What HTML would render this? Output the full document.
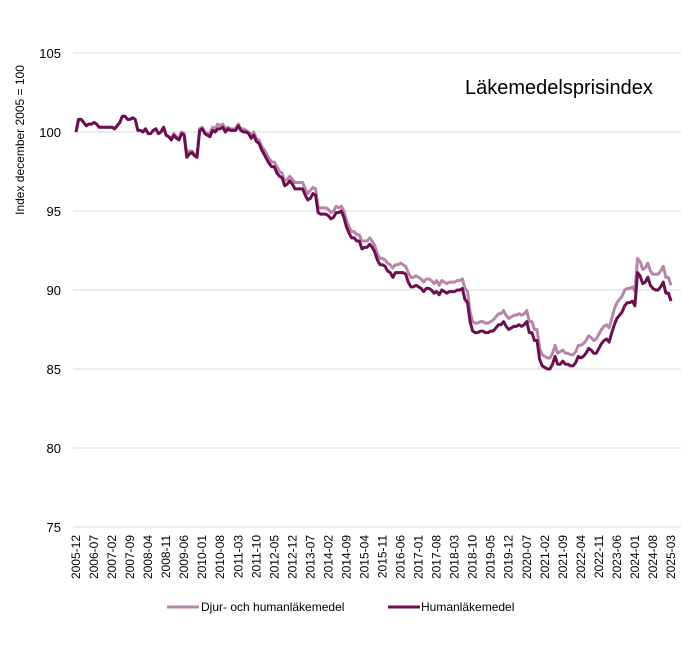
<!DOCTYPE html>
<html><head><meta charset="utf-8">
<style>
body{margin:0;background:#fff;font-family:"Liberation Sans",sans-serif;}
svg text{font-family:"Liberation Sans",sans-serif;fill:#000;}
</style></head>
<body>
<svg id="chart" width="697" height="655" xmlns="http://www.w3.org/2000/svg">
<rect width="697" height="655" fill="#fff"/>
<g id="grid"></g><g id="yticks"></g><g id="xticks"></g><g id="series"></g>
<text x="465" y="94" font-size="20">Läkemedelsprisindex</text>
<text transform="translate(24,140) rotate(-90)" text-anchor="middle" font-size="12">Index december 2005 = 100</text>
<g>
<line x1="167" y1="607" x2="199" y2="607" stroke="#b886a8" stroke-width="3"/>
<text x="201" y="611" font-size="12">Djur- och humanläkemedel</text>
<line x1="388" y1="607" x2="420" y2="607" stroke="#6b0f4e" stroke-width="3"/>
<text x="421" y="611" font-size="12">Humanläkemedel</text>
</g>
</svg>
<script>
const yTicks=[75,80,85,90,95,100,105];
const human=[100.0,
100.8,100.8,100.6,100.4,100.5,100.5,100.6,100.5,100.3,100.3,100.3,100.3,
100.3,100.3,100.2,100.4,100.6,101.0,101.0,100.8,100.8,100.9,100.8,100.1,
100.1,100.0,100.2,99.9,99.9,100.1,100.2,99.9,100.0,100.3,99.8,99.7,
99.5,99.8,99.6,99.5,99.9,99.8,98.4,98.6,98.7,98.5,98.4,100.1,
100.2,99.9,99.8,99.7,100.1,100.0,100.2,100.2,100.3,100.0,100.2,100.1,
100.1,100.1,100.4,100.1,100.0,100.0,99.9,99.6,99.8,99.4,99.3,98.9,
98.6,98.3,98.0,97.8,97.8,97.4,97.2,97.1,96.6,96.7,96.9,96.7,
96.4,96.4,96.4,96.4,96.0,95.7,95.8,96.1,96.0,94.9,94.8,94.8,
94.8,94.7,94.5,94.6,94.9,94.9,95.0,94.6,94.0,93.6,93.3,93.3,
93.1,93.1,92.6,92.7,92.7,92.9,92.7,92.4,91.9,91.6,91.6,91.5,
91.2,91.1,90.8,91.1,91.1,91.1,91.1,91.0,90.5,90.2,90.2,90.3,
90.2,90.1,89.9,90.1,90.1,90.0,89.8,89.9,89.7,90.0,89.9,89.8,
89.9,89.9,89.9,90.0,90.0,90.1,89.4,89.2,88.0,87.4,87.3,87.3,
87.4,87.4,87.3,87.3,87.4,87.4,87.6,87.8,87.8,88.0,87.7,87.5,
87.6,87.7,87.7,87.8,87.7,87.8,88.0,87.3,87.3,86.8,86.8,85.6,
85.2,85.1,85.0,85.0,85.3,85.8,85.3,85.3,85.5,85.3,85.3,85.2,
85.2,85.4,85.8,85.7,85.8,86.0,86.3,86.2,86.0,86.0,86.3,86.6,
86.8,86.9,86.7,87.3,87.8,88.2,88.4,88.6,89.0,89.2,89.2,89.3,
89.0,91.1,90.9,90.4,90.5,90.8,90.3,90.1,90.0,90.0,90.2,90.5,
89.8,89.8,89.3];
const allMed=[100.0,
100.8,100.8,100.6,100.4,100.5,100.5,100.6,100.5,100.3,100.3,100.3,100.3,
100.3,100.3,100.2,100.4,100.6,101.0,101.0,100.8,100.8,100.9,100.8,100.1,
100.1,100.0,100.2,99.9,99.9,100.1,100.2,99.9,100.0,100.3,99.8,99.7,
99.6,99.9,99.7,99.6,100.0,99.9,98.6,98.8,98.8,98.6,98.6,100.2,
100.3,100.0,99.9,99.9,100.3,100.2,100.5,100.4,100.5,100.2,100.3,100.2,
100.2,100.2,100.5,100.2,100.2,100.1,100.0,99.8,100.0,99.6,99.5,99.1,
98.9,98.6,98.3,98.1,98.1,97.8,97.5,97.4,96.9,97.0,97.2,97.0,
96.8,96.8,96.8,96.8,96.4,96.1,96.3,96.5,96.4,95.2,95.2,95.2,
95.2,95.1,94.9,95.0,95.3,95.2,95.3,95.0,94.4,94.0,93.7,93.7,
93.5,93.5,93.1,93.1,93.1,93.3,93.1,92.8,92.3,92.0,92.0,91.9,
91.7,91.6,91.4,91.6,91.6,91.7,91.6,91.5,91.1,90.8,90.8,90.9,
90.8,90.7,90.5,90.7,90.7,90.6,90.4,90.6,90.3,90.6,90.5,90.4,
90.5,90.5,90.5,90.6,90.6,90.7,90.1,89.9,88.6,88.0,87.9,87.9,
88.0,88.0,87.9,87.9,88.0,88.1,88.3,88.5,88.5,88.7,88.4,88.2,
88.3,88.4,88.4,88.5,88.4,88.5,88.7,88.0,88.0,87.5,87.5,86.3,
85.9,85.8,85.7,85.7,86.0,86.5,86.0,86.1,86.2,86.0,86.0,85.9,
85.9,86.1,86.5,86.5,86.6,86.8,87.1,87.0,86.8,86.9,87.2,87.5,
87.7,87.8,87.6,88.2,88.8,89.2,89.4,89.6,90.0,90.1,90.1,90.2,
89.9,92.0,91.8,91.3,91.4,91.7,91.2,91.0,91.0,91.0,91.2,91.5,
90.8,90.8,90.3];
const startYear=2005, startMonth=12, labelStep=7;

const NS="http://www.w3.org/2000/svg";
const X0=76,X1=671,Y0=527,Y1=53,VMIN=75,VMAX=105;
const n=human.length;
function xs(i){return X0+(X1-X0)*i/(n-1);}
function ys(v){return Y0-(v-VMIN)/(VMAX-VMIN)*(Y0-Y1);}
function mk(tag,attrs,parent){const e=document.createElementNS(NS,tag);for(const k in attrs)e.setAttribute(k,attrs[k]);parent.appendChild(e);return e;}
const grid=document.getElementById('grid'),yt=document.getElementById('yticks'),xt=document.getElementById('xticks'),ser=document.getElementById('series');
yTicks.forEach(v=>{
  const l=mk('line',{x1:73,x2:681,y1:ys(v),y2:ys(v),stroke:'#d9d9d9','stroke-width':1},grid);
  
  
  const t=mk('text',{x:61,y:ys(v)+5,'text-anchor':'end','font-size':13},yt);
  t.textContent=v;
  
  
});
for(let i=0;i<n;i+=labelStep){
  const m=startMonth-1+i;const yr=startYear+Math.floor(m/12);const mo=(m%12)+1;
  const lab=yr+'-'+(mo<10?'0':'')+mo;
  const x=xs(i)+4;
  const t=mk('text',{transform:'translate('+x+',535) rotate(-90)','text-anchor':'end','font-size':12},xt);
  t.textContent=lab;
  
  
}
function line(data,color,name){
  const d=data.map((v,i)=>(i?'L':'M')+xs(i).toFixed(2)+','+ys(v).toFixed(2)).join('');
  const p=mk('path',{d:d,fill:'none',stroke:color,'stroke-width':3,'stroke-linejoin':'round'},ser);
  
  
}
line(allMed,'#b886a8','series-djur-och-humanlakemedel');
line(human,'#6b0f4e','series-humanlakemedel');
</script>
</body></html>
